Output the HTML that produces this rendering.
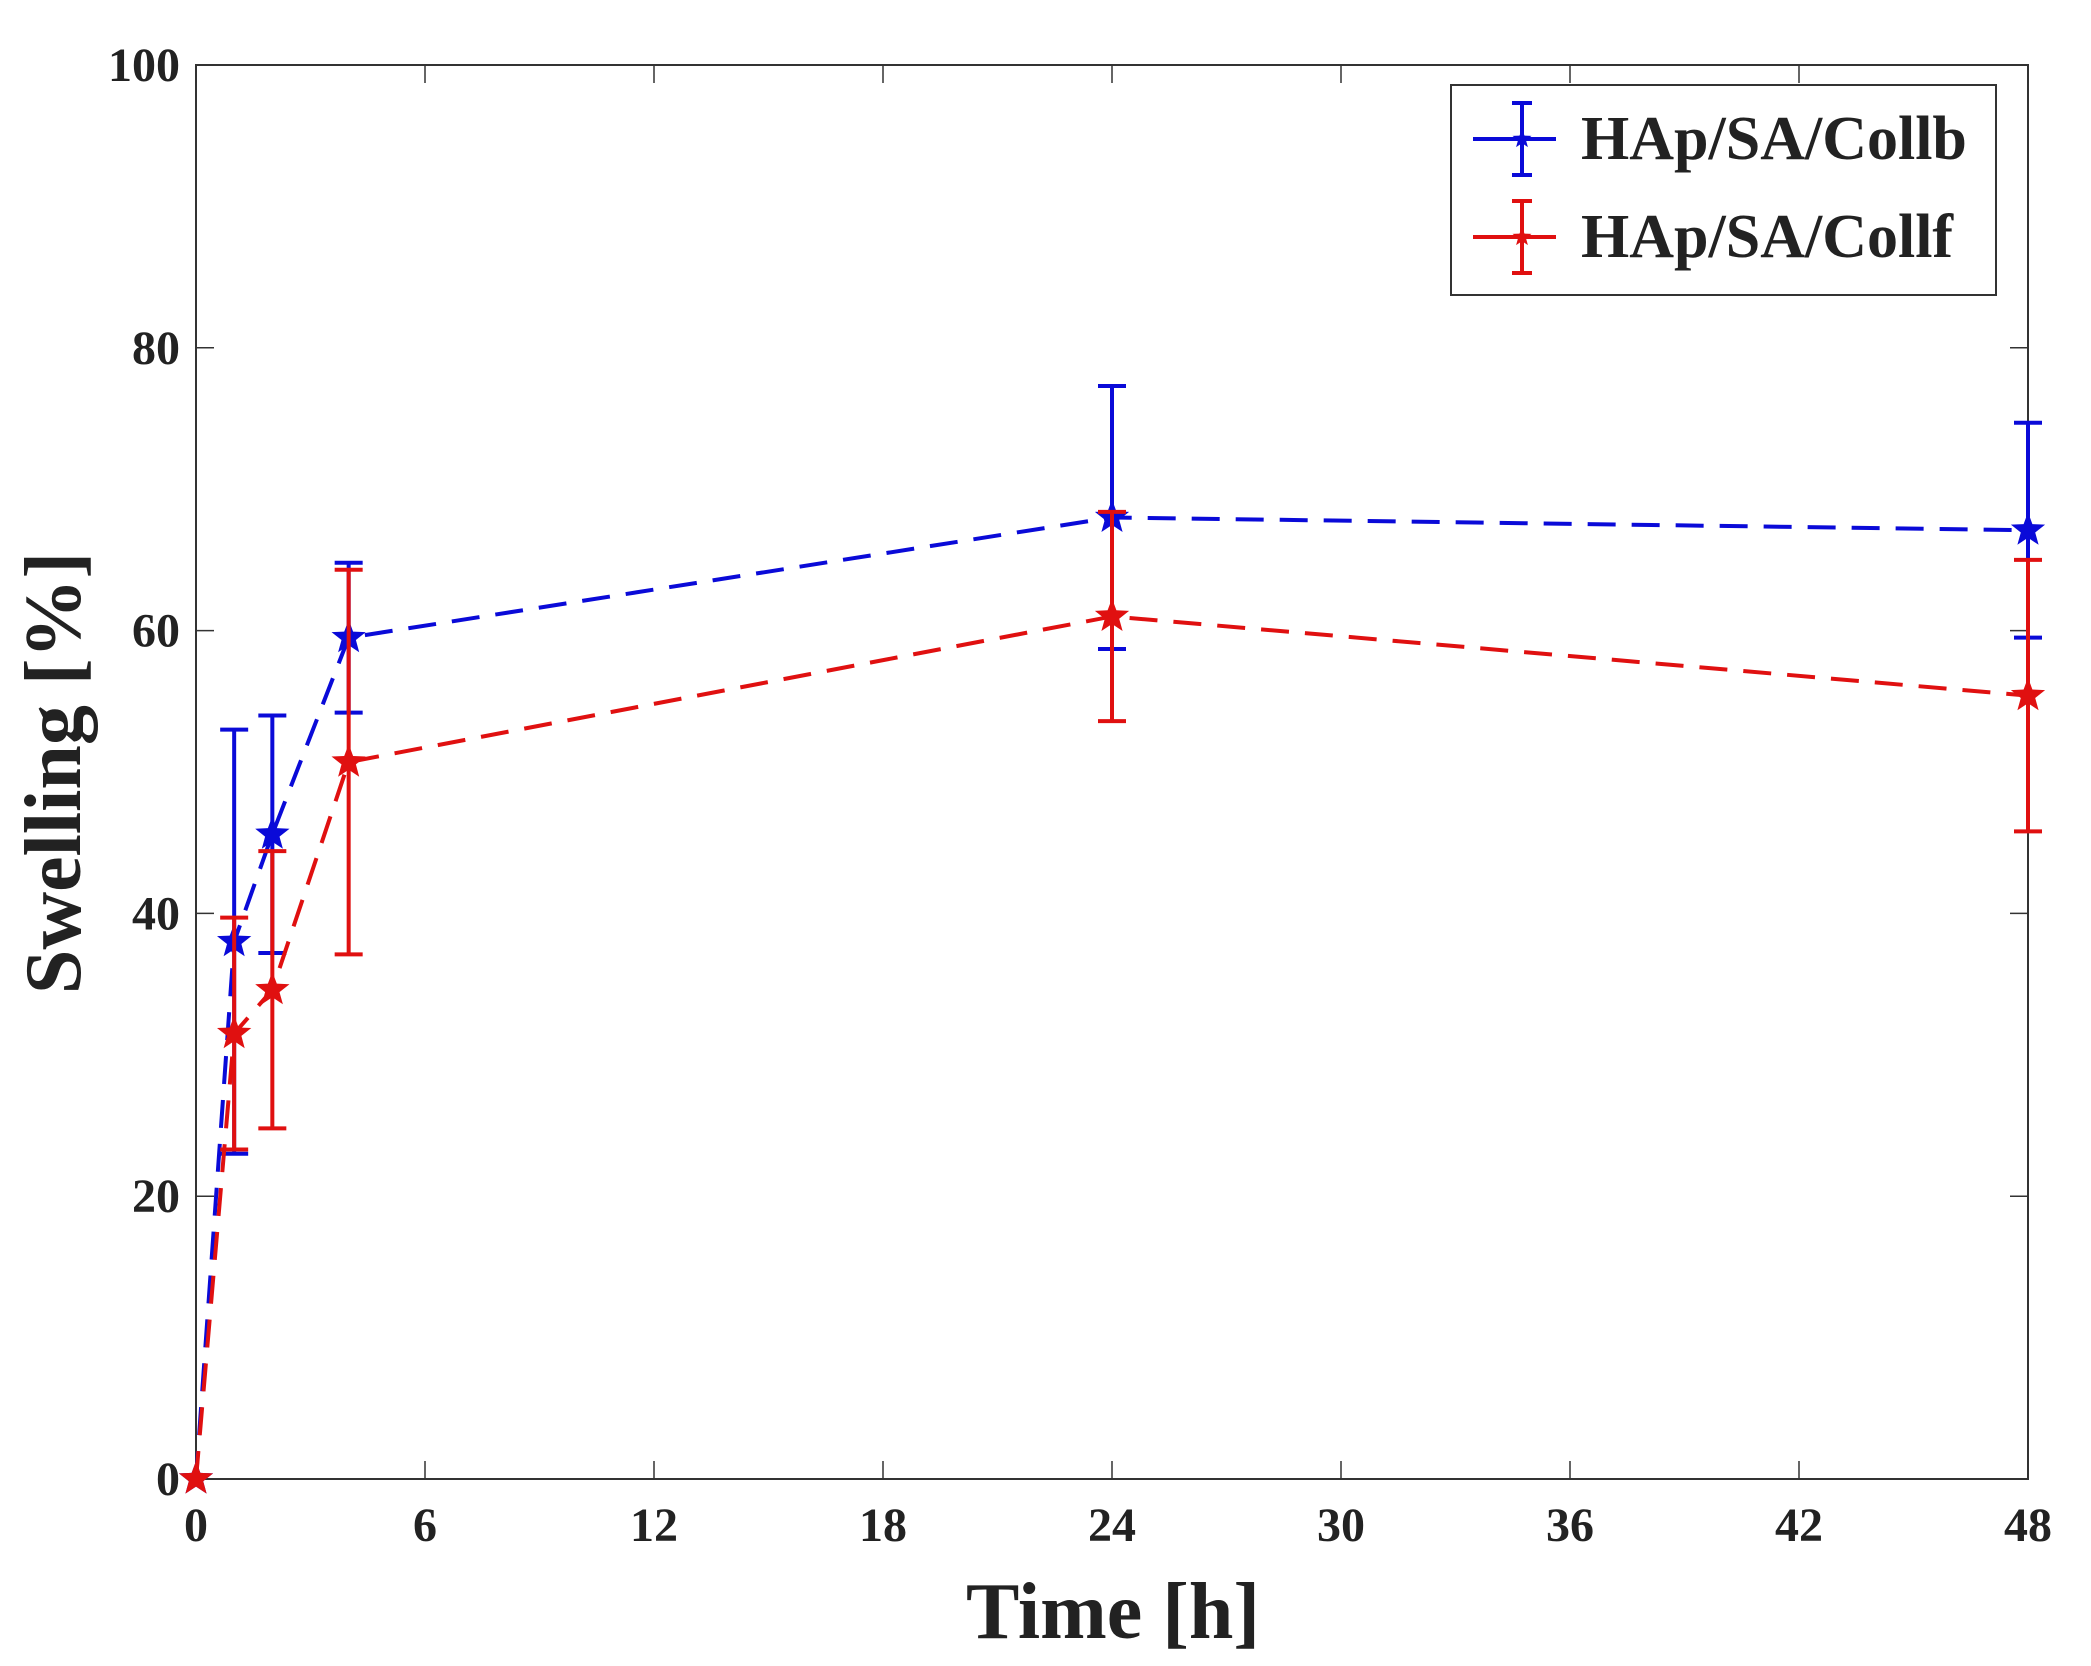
<!DOCTYPE html>
<html><head><meta charset="utf-8"><style>
html,body{margin:0;padding:0;background:#fff;}
svg{display:block;}
text{font-family:"Liberation Serif",serif;font-weight:bold;fill:#222;}
</style></head><body>
<svg id="chart" width="2091" height="1666" viewBox="0 0 2091 1666" xmlns="http://www.w3.org/2000/svg">
<g id="axes"></g>
<g id="series"></g>
<g id="legend"></g>
<text x="1113" y="1638" font-size="80" text-anchor="middle">Time [h]</text>
<text transform="translate(80,773) rotate(-90)" font-size="80" text-anchor="middle">Swelling [%]</text>
</svg>
<script>
const times = [0, 1, 2, 4, 24, 48];
const collbValues = [0, 38.0, 45.6, 59.5, 68.0, 67.1];
const collbErrors = [0, 15.0, 8.4, 5.3, 9.3, 7.6];
const collfValues = [0, 31.5, 34.6, 50.7, 61.0, 55.4];
const collfErrors = [0, 8.2, 9.8, 13.6, 7.4, 9.6];
const xTicks = [0, 6, 12, 18, 24, 30, 36, 42, 48];
const yTicks = [0, 20, 40, 60, 80, 100];

const L = 196, R = 2028, T = 65, B = 1479;
const xs = v => L + (v / 48) * (R - L);
const ys = v => B - (v / 100) * (B - T);
const NS = "http://www.w3.org/2000/svg";
function mk(tag, attrs, parent) {
  const e = document.createElementNS(NS, tag);
  for (const k in attrs) e.setAttribute(k, attrs[k]);
  parent.appendChild(e);
  return e;
}
const axes = document.getElementById('axes');
const frame = mk('rect', {x: L, y: T, width: R - L, height: B - T, fill: 'none', stroke: '#333', 'stroke-width': 2}, axes);


xTicks.forEach(t => {
  const x = xs(t);
  mk('line', {x1: x, y1: B, x2: x, y2: B - 18, stroke: '#333', 'stroke-width': 1.5}, axes);
  mk('line', {x1: x, y1: T, x2: x, y2: T + 18, stroke: '#333', 'stroke-width': 1.5}, axes);
  const tx = mk('text', {x: x, y: B + 62, 'font-size': 48, 'text-anchor': 'middle'}, axes);
  tx.textContent = t;
  
  
});
yTicks.forEach(t => {
  const y = ys(t);
  mk('line', {x1: L, y1: y, x2: L + 18, y2: y, stroke: '#333', 'stroke-width': 1.5}, axes);
  mk('line', {x1: R, y1: y, x2: R - 18, y2: y, stroke: '#333', 'stroke-width': 1.5}, axes);
  const tx = mk('text', {x: 180, y: y + 16, 'font-size': 48, 'text-anchor': 'end'}, axes);
  tx.textContent = t;
  
  
});
function star(cx, cy, r, color, parent) {
  let pts = [];
  for (let i = 0; i < 10; i++) {
    const a = -Math.PI / 2 + i * Math.PI / 5;
    const rr = i % 2 ? r * 0.42 : r;
    pts.push((cx + rr * Math.cos(a)).toFixed(1) + ',' + (cy + rr * Math.sin(a)).toFixed(1));
  }
  return mk('polygon', {points: pts.join(' '), fill: color}, parent);
}
const ser = document.getElementById('series');
function drawSeries(vals, errs, color, name) {
  const g = mk('g', {}, ser);
  
  
  const d = times.map((t, i) => (i ? 'L' : 'M') + xs(t) + ',' + ys(vals[i])).join(' ');
  const p = mk('path', {d: d, fill: 'none', stroke: color, 'stroke-width': 4, 'stroke-dasharray': '28,16'}, g);
  
  
  times.forEach((t, i) => {
    const x = xs(t);
    if (errs[i] > 0) {
      const y1 = ys(vals[i] + errs[i]), y2 = ys(vals[i] - errs[i]);
      const eb = mk('path', {d: `M${x},${y1} L${x},${y2} M${x-14},${y1} L${x+14},${y1} M${x-14},${y2} L${x+14},${y2}`, stroke: color, 'stroke-width': 4, fill: 'none'}, g);
      
      
    }
    const s = star(x, ys(vals[i]), 18, color, g);
    
    
  });
}
drawSeries(collbValues, collbErrors, '#0a0ad8', 'collb-series');
drawSeries(collfValues, collfErrors, '#e01010', 'collf-series');

const lg = document.getElementById('legend');
const box = mk('rect', {x: 1451, y: 85, width: 545, height: 210, fill: '#fff', stroke: '#333', 'stroke-width': 2}, lg);


[['HAp/SA/Collb', '#0a0ad8', 139], ['HAp/SA/Collf', '#e01010', 237]].forEach(([lab, c, cy]) => {
  const g = mk('g', {}, lg);
  
  
  mk('path', {d: `M1473,${cy} L1556,${cy} M1522,${cy-36} L1522,${cy+36} M1512,${cy-36} L1532,${cy-36} M1512,${cy+36} L1532,${cy+36}`, stroke: c, 'stroke-width': 4, fill: 'none'}, g);
  star(1522, cy, 10, c, g);
  const t = mk('text', {x: 1581, y: cy + 20, 'font-size': 62, fill: '#111'}, g);
  t.textContent = lab;
});
</script>
</body></html>
